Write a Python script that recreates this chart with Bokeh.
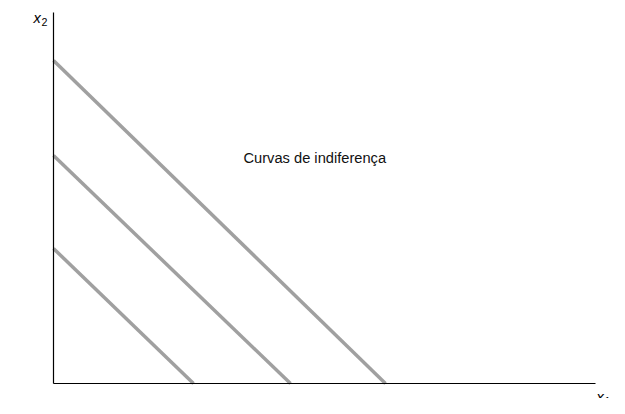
from bokeh.plotting import figure
from bokeh.models import Range1d
from bokeh.core.properties import value
from bokeh.embed import file_html
from bokeh.resources import INLINE

# indifference curves as straight lines: (y intercept, x intercept)
y_intercepts = [323, 228, 135]
x_intercepts = [332, 237, 140]
axis_x_max = 542
axis_y_max = 371

p = figure(width=609, height=398, output_backend="svg", toolbar_location=None,
           min_border=0)
p.x_range = Range1d(-53, 556)
p.y_range = Range1d(-15, 383)
p.xaxis.visible = False
p.yaxis.visible = False
p.grid.visible = False
p.outline_line_color = None

for yi, xi in zip(y_intercepts, x_intercepts):
    p.line([0, xi], [yi, 0], line_color="#a0a0a0", line_width=3.5)

# axes
p.line([0, 0], [0, axis_y_max], line_color="black", line_width=1.2)
p.line([0, axis_x_max], [0, 0], line_color="black", line_width=1.2)

p.text([190], [226], text=["Curvas de indiferença"], text_font=value("Liberation Sans"),
       text_font_size="11pt", text_baseline="middle", text_color="#111111")

p.text([-20], [366], text=["x"], text_font=value("Liberation Sans"),
       text_font_style="italic", text_font_size="11pt", text_baseline="middle")
p.text([-12], [362], text=["2"], text_font=value("Liberation Sans"),
       text_font_size="8pt", text_baseline="middle")
p.text([543], [-13], text=["x"], text_font=value("Liberation Sans"),
       text_font_style="italic", text_font_size="11pt", text_baseline="middle")
p.text([551], [-17], text=["1"], text_font=value("Liberation Sans"),
       text_font_size="8pt", text_baseline="middle")

open("out.html", "w").write(file_html(p, INLINE))
